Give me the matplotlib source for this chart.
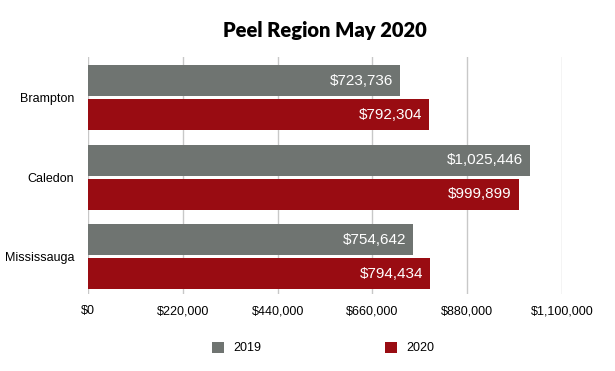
import numpy as np
import matplotlib.pyplot as plt
from matplotlib.ticker import FuncFormatter

regions = ['Brampton', 'Caledon', 'Mississauga']
prices_2019 = [723736, 1025446, 754642]
prices_2020 = [792304, 999899, 794434]
years = ['2019', '2020']

grey = '#6f7471'
red = '#990c12'

fig = plt.figure(figsize=(6.15, 3.71), dpi=100)
ax = fig.add_axes([0.1431, 0.2075, 0.7707, 0.6385])

y = np.arange(len(regions))
h = 0.39
off = 0.214
b1 = ax.barh(y - off, prices_2019, height=h, color=grey, label=years[0], zorder=3)
b2 = ax.barh(y + off, prices_2020, height=h, color=red, label=years[1], zorder=3)

for bars, vals in [(b1, prices_2019), (b2, prices_2020)]:
    ax.bar_label(bars, labels=['${:,}'.format(v) for v in vals], padding=-5,
                 color='white', fontsize=11, family='Liberation Sans', zorder=4)
    for t in ax.texts[-len(vals):]:
        t.set_ha('right')

ax.set_xlim(0, 1100000)
ax.set_ylim(2.47, -0.51)
ax.set_xticks(np.arange(0, 1100001, 220000))
ax.xaxis.set_major_formatter(FuncFormatter(lambda v, p: '${:,.0f}'.format(v)))
ax.set_yticks(y)
ax.set_yticklabels(regions)
ax.grid(axis='x', color='#c8c8c8', linewidth=1, zorder=0)
for s in ax.spines.values():
    s.set_visible(False)
ax.tick_params(length=0, labelsize=9, pad=8)
for lab in ax.get_xticklabels() + ax.get_yticklabels():
    lab.set_family('Liberation Sans')
ax.tick_params(axis='y', pad=10)

fig.text(0.529, 0.9003, 'Peel Region May 2020', ha='center', va='baseline',
         fontsize=14.5, fontweight='heavy', family='Lato')

fig.legend(loc='center', bbox_to_anchor=(0.525, 0.062), ncol=2, frameon=False,
           handlelength=1.0, handleheight=1.0, columnspacing=9.9, handletextpad=0.7,
           prop={'family': 'Liberation Sans', 'size': 9})

fig.savefig('out.png', dpi=100, facecolor='white')
